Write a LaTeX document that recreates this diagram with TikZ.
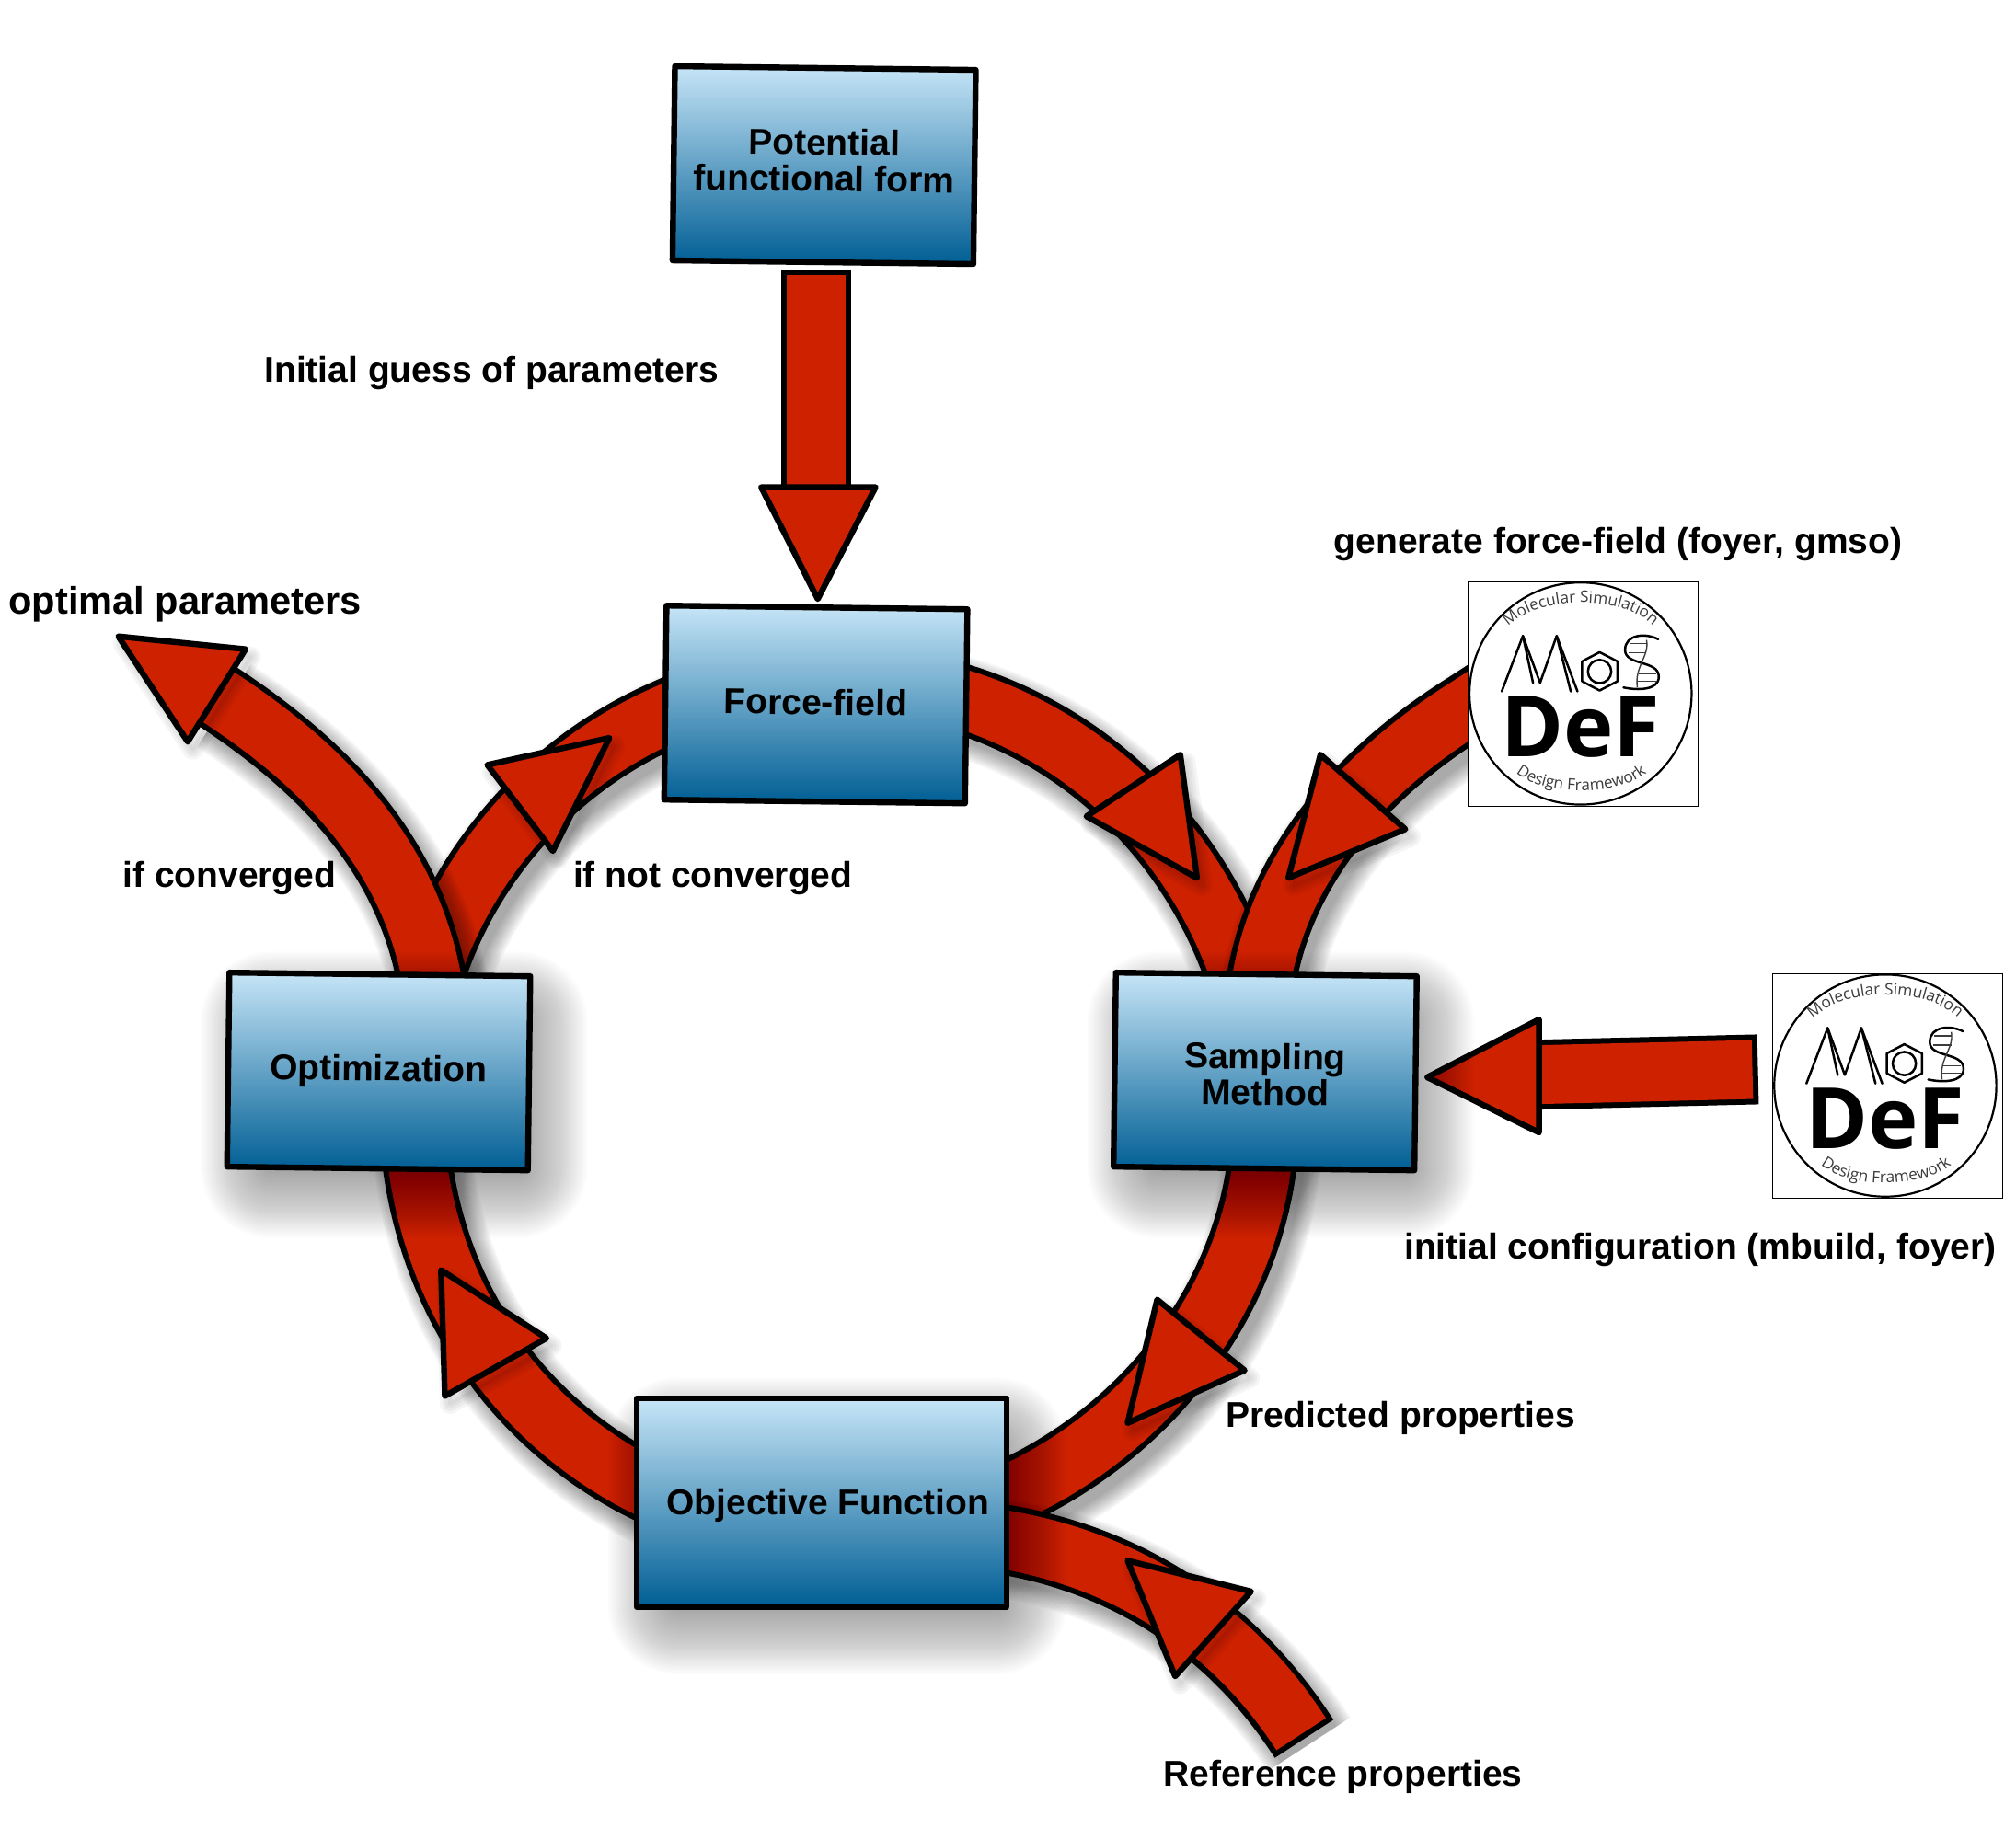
\documentclass[tikz,border=0pt]{standalone}
\usepackage{fontspec}
\setmainfont{Liberation Sans}
\newfontfamily\logofont{Open Sans}
\usetikzlibrary{decorations.text}
\definecolor{arrowred}{RGB}{206,33,0}
\definecolor{boxtop}{RGB}{198,229,247}
\definecolor{boxbot}{RGB}{0,94,148}
\definecolor{logogray}{RGB}{60,60,60}
\pgfdeclarelayer{back}
\pgfdeclarelayer{mid}
\pgfsetlayers{back,mid,main}
\tikzset{
  labeltext/.style={font=\bfseries\fontsize{19.5}{19.7}\selectfont,align=center,inner sep=0pt,text=black},
  flowbox/.style={labeltext,draw=black,line width=3.2pt,line join=round,top color=boxtop,bottom color=boxbot,
    minimum width=163.5pt,minimum height=105.5pt,rotate=-0.7,outer sep=0pt},
  fatout/.style={draw=black,line width=38pt,line join=round,shorten <=-3pt,shorten >=-3pt},
  fatin/.style={draw=arrowred,line width=32pt,line join=round},
  headtri/.style={draw=black,fill=arrowred,line width=3.2pt,line join=round},
  logoframe/.style={draw=black,line width=.6pt,fill=white,minimum width=125pt,minimum height=122pt,inner sep=0pt,outer sep=0pt},
  logoline/.style={draw=black,line width=1.25pt,line join=round,line cap=round},
}
\newcommand\softshaft[1]{\foreach \w in {36,38,...,54}{\draw[transform canvas={shift={(6,8)}},black,opacity=.04,line width=\w pt] #1;}}
\newcommand\softhead[1]{\foreach \w in {2,5,...,11}{\draw[transform canvas={shift={(4,6)}},black,opacity=.04,line width=\w pt,line join=round] #1;}}
\newcommand\softbox[1]{\foreach \d in {-13,-12,...,24}{%
  \pgfmathsetmacro\rr{\d+14}%
  \pgfmathsetmacro\xa{8.4-\d}\pgfmathsetmacro\xb{8.4+\d}%
  \pgfmathsetmacro\ya{-12.6+\d}\pgfmathsetmacro\yb{-12.6-\d}%
  \fill[black,opacity=.0125,rounded corners=\rr pt]
    ([xshift=\xa pt,yshift=\ya pt]#1.north west) rectangle ([xshift=\xb pt,yshift=\yb pt]#1.south east);}}
\newcommand\fatshaft[1]{\softshaft{#1}\draw[fatout] #1;\draw[fatin] #1;}
\newcommand\plainshaft[1]{\draw[fatout] #1;\draw[fatin] #1;}
\newcommand\fathead[1]{\softhead{#1}\draw[headtri] #1;}
\newcommand\mosdef[2]{%
  \node (#1) [logoframe] at (#2) {};
  \begin{scope}[shift={(#2)},x=.16667pt,y=-.16667pt]
  \begin{scope}[shift={(-482,-462)}]
    \draw[draw=black,line width=1.1pt] (475,460) circle[radius=362];
    \path[decorate,decoration={text along path,text color=logogray,
      text={|\logofont\fontsize{8.6}{8.6}\selectfont|Molecular Simulation},text align=center}]
      (222,264) .. controls (310,130) and (640,130) .. (730,260);
    \path[decorate,decoration={text along path,text color=logogray,
      text={|\logofont\fontsize{8.6}{8.6}\selectfont|Design Framework},text align=center}]
      (254,708) .. controls (340,800) and (610,800) .. (702,708);
    \draw[logoline] (218,453) -- (287,272) -- (343,425) -- (397,272) -- (465,453);
    \draw[logoline] (287,272) -- (320,425);
    \draw[logoline] (397,272) -- (443,453);
    \draw[logoline] (537,325) -- (595,355) -- (595,420) -- (537,450) -- (480,420) -- (480,355) -- cycle;
    \draw[logoline] (537,388) circle[radius=38];
    \draw[logoline] (728,283) .. controls (690,262) and (620,265) .. (620,318)
       .. controls (620,370) and (730,350) .. (730,405) .. controls (730,450) and (660,450) .. (615,440);
    \draw[draw=logogray,line width=.7pt] (690,285) .. controls (700,340) and (650,370) .. (660,440);
    \foreach \yy/\xa/\xb in {298/635/690,328/632/690,395/665/722,420/662/725}
      \draw[draw=logogray,line width=.6pt] (\xa,\yy) -- (\xb,\yy);
    \node (#1def) [font=\logofont\bfseries\fontsize{46}{46}\selectfont,inner sep=0pt,text=black] at (475,568) {DeF};
  \end{scope}
  \end{scope}}
\begin{document}
\begin{tikzpicture}[x=.69866pt,y=-.69866pt]
\useasboundingbox (0,0) rectangle (1568,1422);

% boxes
\node (pot) [flowbox] at (641,128.5) {Potential\\functional form\rule[-5.6pt]{0pt}{5.6pt}};
\node (ff)  [flowbox] at (634.5,548) {Force-field\rule[-3pt]{0pt}{3pt}};
\node (opt) [flowbox] at (294.5,833.5) {Optimization};
\node (samp)[flowbox] at (984,833.5) {\rule{0pt}{17.2pt}Sampling\\Method};
\node (obj) [flowbox,rotate=0.7,minimum width=201.2pt,minimum height=113.2pt] at (639,1169) {\rule{0pt}{17.2pt}\hspace*{7pt}Objective Function};

% logos
\mosdef{logoA}{1231,540}
\mosdef{logoB}{1468,845}

% free ends
\coordinate (potTail) at (634.5,214);
\coordinate (potBase) at (634.5,380);
\coordinate (rightTail) at (1363,832);
\coordinate (rightBase) at (1196,836);
\coordinate (optEnd) at (168,541);
\coordinate (refTail) at (1012,1349);

\begin{pgfonlayer}{back}
  % Force-field -> Sampling
  \fatshaft{(ff.center) -- (733,539) -- (752,545) .. controls (853,578) and (931,659) .. (965,760) -- (971,779) -- (samp.center)}
  \fathead{(918,587) -- (845,635) -- (931,683) -- cycle}
  % Sampling -> Objective
  \fatshaft{(samp.center) -- (984,891) -- (981,910) .. controls (965,1019) and (890,1113) .. (790,1160) -- (772,1168) -- (obj.center)}
  \fathead{(900,1011) -- (968,1066) -- (877,1107) -- cycle}
  % Objective -> Optimization
  \fatshaft{(obj.center) -- (513,1162) -- (495,1153) .. controls (401,1103) and (340,1013) .. (325,908) -- (322,889) -- (opt.center)}
  \fathead{(343,988) -- (346,1086) -- (425,1041) -- cycle}
  % Optimization -> Force-field
  \fatshaft{(opt.center) -- (329,776) -- (335,757) .. controls (364,668) and (431,594) .. (517,556) -- (535,548) -- (ff.center)}
  \fathead{(474,574) -- (379,595) -- (430,662) -- cycle}
  % Optimization -> optimal parameters
  \fatshaft{(opt.center) -- (339,777) -- (335,757) .. controls (315,661) and (250,594) .. (optEnd)}
  \fathead{(191,505) -- (146,577) -- (92,495) -- cycle}
  % logo A -> Sampling
  \fatshaft{(logoA.center) -- (1158,539) -- (1141,550) .. controls (1063,599) and (1000,667) .. (982,757) -- (978,777) -- (samp.center)}
  \fathead{(1027,587) -- (1093,645) -- (1002,683) -- cycle}
  % Reference -> Objective
  \fatshaft{(refTail) .. controls (959,1267) and (879,1215) .. (783,1198) -- (763,1195) -- (obj.center)}
  \fathead{(973,1238) -- (914,1304) -- (877,1214) -- cycle}
  % Potential -> Force-field
  \plainshaft{(potTail) -- (potBase)}
  \draw[headtri] (592,379) -- (681,379) -- (636,466) -- cycle;
  % logo B -> Sampling
  \plainshaft{(rightTail) -- (rightBase)}
  \draw[headtri] (1197,793) -- (1197,881) -- (1110,838) -- cycle;
\end{pgfonlayer}

\begin{pgfonlayer}{mid}
  \softbox{opt}
  \softbox{samp}
  \softbox{obj}
\end{pgfonlayer}

% labels
\node (lGuess) [labeltext] at (382.5,290) {Initial guess of parameters};
\node (lGen)   [labeltext] at (1258.5,423) {generate force-field (foyer, gmso)};
\node (lOpt)   [labeltext,font=\bfseries\fontsize{20.8}{21}\selectfont] at (144,470) {optimal parameters};
\node (lConv)  [labeltext] at (178.5,683) {if converged};
\node (lNot)   [labeltext] at (554.5,683) {if not converged};
\node (lInit)  [labeltext] at (1322.5,972) {initial configuration (mbuild, foyer)};
\node (lPred)  [labeltext] at (1089.5,1103) {Predicted properties};
\node (lRef)   [labeltext] at (1044.5,1382) {Reference properties};
\end{tikzpicture}
\end{document}
